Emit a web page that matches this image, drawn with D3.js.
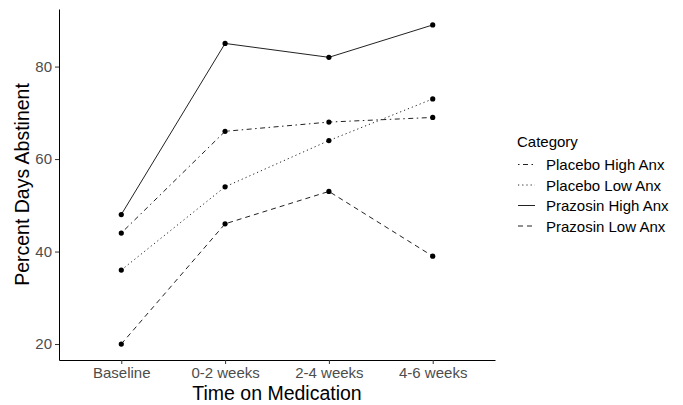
<!DOCTYPE html>
<html>
<head>
<meta charset="utf-8">
<script src="https://cdn.jsdelivr.net/npm/d3@7"></script>
<style>
  body { margin: 0; background: #fff; }
</style>
</head>
<body>
<div id="chart"></div>
<script>
// Data
const timepoints = ["Baseline", "0-2 weeks", "2-4 weeks", "4-6 weeks"];
const categories = ["Placebo High Anx", "Placebo Low Anx", "Prazosin High Anx", "Prazosin Low Anx"];
const placeboHigh = [44, 66, 68, 69];
const placeboLow = [36, 54, 64, 73];
const prazosinHigh = [48, 85, 82, 89];
const prazosinLow = [20, 46, 53, 39];
const yTicks = [20, 40, 60, 80];

const seriesValues = [placeboHigh, placeboLow, prazosinHigh, prazosinLow];
const dashes = ["1.5,3.5,5,3.5", "1.2,3", null, "5,4"];

const font = "Liberation Sans, Arial, sans-serif";
const width = 683;
const height = 405;
const margin = { top: 9, right: 188, bottom: 45, left: 59 };
const innerWidth = width - margin.left - margin.right;
const innerHeight = height - margin.top - margin.bottom;

const svg = d3.select("#chart")
  .append("svg")
  .attr("width", width)
  .attr("height", height)
  .attr("font-family", font);

const chart = svg.append("g")
  .attr("transform", `translate(${margin.left}, ${margin.top})`);

// X scale, discrete with ggplot-like 0.6 expansion
const xScale = d3.scalePoint()
  .domain(timepoints)
  .range([0, innerWidth])
  .padding(0.6);

// Y scale with 5% expansion
const allVals = seriesValues.flat();
const yMin = d3.min(allVals), yMax = d3.max(allVals);
const pad = (yMax - yMin) * 0.05;
const yScale = d3.scaleLinear()
  .domain([yMin - pad, yMax + pad])
  .range([innerHeight, 0]);

// Axes
function styleAxis(g) {
  g.attr("font-size", 15).attr("font-family", font);
  g.select(".domain").attr("stroke", "#000");
  g.selectAll(".tick line").attr("stroke", "#333");
  g.selectAll(".tick text").attr("fill", "#4d4d4d");
}

chart.append("g")
  .attr("transform", `translate(0, ${innerHeight})`)
  .call(d3.axisBottom(xScale).tickSizeOuter(0).tickSizeInner(4).tickPadding(3))
  .call(styleAxis);

chart.append("g")
  .call(d3.axisLeft(yScale).tickValues(yTicks).tickSizeOuter(0).tickSizeInner(4).tickPadding(3))
  .call(styleAxis);

// Lines
const line = d3.line()
  .x((d, i) => xScale(timepoints[i]))
  .y(d => yScale(d));

seriesValues.forEach((vals, k) => {
  chart.append("path")
    .datum(vals)
    .attr("fill", "none")
    .attr("stroke", "#222")
    .attr("stroke-width", 1)
    .attr("stroke-dasharray", dashes[k])
    .attr("d", line);

  chart.selectAll(".pt" + k)
    .data(vals)
    .enter()
    .append("circle")
    .attr("cx", (d, i) => xScale(timepoints[i]))
    .attr("cy", d => yScale(d))
    .attr("r", 2.6)
    .attr("fill", "#000");
});

// Axis titles
svg.append("text")
  .attr("x", margin.left + innerWidth / 2)
  .attr("y", 400)
  .attr("text-anchor", "middle")
  .attr("font-size", 19.5)
  .attr("fill", "#000")
  .text("Time on Medication");

svg.append("text")
  .attr("transform", `translate(29, ${margin.top + innerHeight / 2}) rotate(-90)`)
  .attr("text-anchor", "middle")
  .attr("font-size", 19.5)
  .attr("fill", "#000")
  .text("Percent Days Abstinent");

// Legend
const legend = svg.append("g")
  .attr("transform", "translate(517, 0)");

legend.append("text")
  .attr("x", 0)
  .attr("y", 147)
  .attr("font-size", 15)
  .attr("fill", "#000")
  .text("Category");

const legendItem = legend.selectAll(".legend-item")
  .data(categories)
  .enter()
  .append("g")
  .attr("class", "legend-item")
  .attr("transform", (d, i) => `translate(0, ${164.5 + i * 20.5})`);

legendItem.append("line")
  .attr("x1", 1)
  .attr("x2", 18)
  .attr("y1", 0)
  .attr("y2", 0)
  .attr("stroke", "#222")
  .attr("stroke-width", 1)
  .attr("stroke-dasharray", (d, i) => dashes[i]);

legendItem.append("text")
  .attr("x", 29)
  .attr("y", 5.5)
  .attr("font-size", 15)
  .attr("fill", "#000")
  .text(d => d);
</script>
</body>
</html>
